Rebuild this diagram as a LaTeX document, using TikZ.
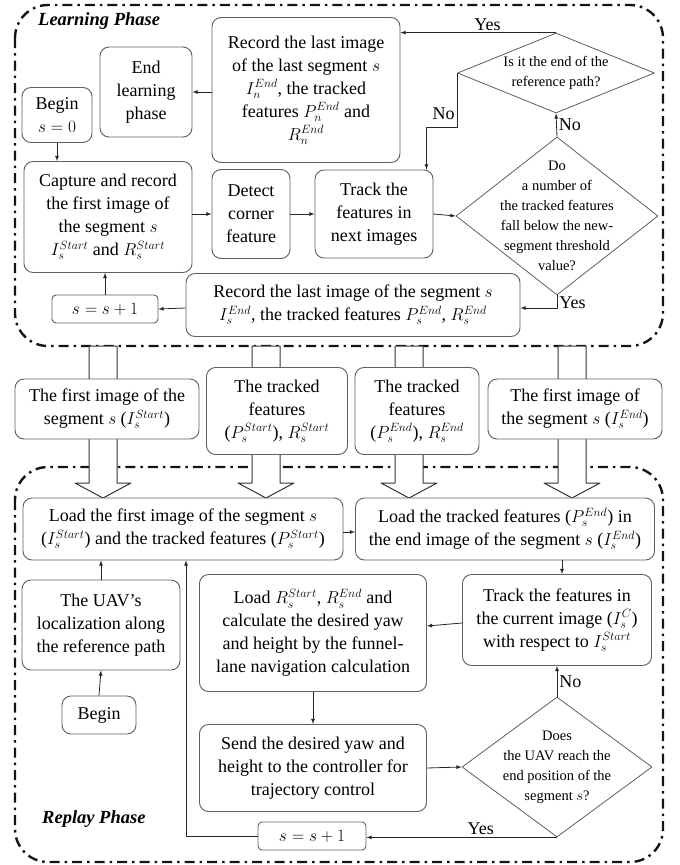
\documentclass[tikz,border=0pt]{standalone}
\usepackage{fontspec}
\setmainfont{Liberation Serif}
\usetikzlibrary{shapes.geometric,calc,positioning}

\definecolor{boxgray}{RGB}{95,95,95}
\definecolor{framegray}{RGB}{20,20,20}
\newcommand{\flowfont}{\fontsize{18}{23}\selectfont}
\newcommand{\decfont}{\fontsize{14.5}{20}\selectfont}
\newcommand{\phasefont}{\fontsize{18.5}{22}\selectfont\bfseries\itshape}

\begin{document}
\begin{tikzpicture}[x=1pt,y=-1pt,line join=round,
    box/.style={draw=boxgray,line width=0.9pt,rounded corners=9pt,fill=white,
        align=center,font=\flowfont,inner sep=2pt},
    decision/.style={diamond,draw=boxgray,line width=0.8pt,fill=white,inner sep=0pt},
    dtext/.style={align=center,font=\decfont,inner sep=0pt},
    flow/.style={-latex,line width=0.8pt,black!85},
    elabel/.style={font=\flowfont,inner sep=2pt,black},
    phaseframe/.style={framegray,line width=2.4pt,rounded corners=33pt,
        dash pattern=on 10pt off 5pt on 2.5pt off 5pt},
    hollow/.style={draw=black!80,fill=white,line width=1pt},
    phaselabel/.style={font=\phasefont,inner sep=0pt}]
    \useasboundingbox (0,0) rectangle (680,865);

    % Marcos de las dos fases
    \draw[phaseframe] (15,5) rectangle (663,346);
    \draw[phaseframe] (15,467) rectangle (663,862);
    \node[phaselabel,anchor=west] (lphase) at (38,21) {Learning Phase};
    \node[phaselabel,anchor=west] (rphase) at (42,819) {Replay Phase};

    % Flechas huecas entre fases
    \foreach \cx in {103,266,409,572} {
        \draw[hollow] (\cx-14,346) -- (\cx-14,483) -- (\cx-28,483) -- (\cx,498)
            -- (\cx+28,483) -- (\cx+14,483) -- (\cx+14,346) -- cycle;
    }

    % Fase de aprendizaje
    \node[box,minimum width=92pt,minimum height=90pt] (lend) at (146,92)
        {End\\learning\\phase};
    \node[box,minimum width=188pt,minimum height=145pt] (lrecn) at (306,90)
        {Record the last image\\of the last segment $s$\\$I_n^{End}$, the tracked\\
         features $P_n^{End}$ and\\$R_n^{End}$};
    \node[box,minimum width=70pt,minimum height=55pt] (lbegin) at (57,115)
        {Begin\\$s=0$};
    \node[box,minimum width=168pt,minimum height=111pt] (lcap) at (108,217)
        {Capture and record\\the first image of\\the segment $s$\\
         $I_s^{Start}$ and $R_s^{Start}$};
    \node[box,minimum width=78pt,minimum height=89pt] (ldet) at (251,214)
        {Detect\\corner\\feature};
    \node[box,minimum width=118pt,minimum height=88pt] (ltrk) at (374,214)
        {Track the\\features in\\next images};
    \node[decision,minimum width=202pt,minimum height=158pt,
        label={[dtext]center:{Do\\a number of\\the tracked features\\
        fall below the new-\\segment threshold\\value?}}] (ldec) at (557,216) {};
    \node[decision,minimum width=197pt,minimum height=80pt,
        label={[dtext]center:{Is it the end of the\\reference path?}}]
        (lqend) at (556,73) {};
    \node[box,minimum width=334pt,minimum height=63pt] (lrecs) at (353,305)
        {Record the last image of the segment $s$\\
         $I_s^{End}$, the tracked features $P_s^{End}$, $R_s^{End}$};
    \node[box,rounded corners=4pt,minimum width=106pt,minimum height=28pt]
        (lincr) at (105,309) {$s=s+1$};

    \draw[flow] (lbegin.south) -- (lbegin.south |- lcap.north);
    \draw[flow] (lcap.east |- ldet) -- (ldet.west);
    \draw[flow] (ldet.east) -- (ltrk.west);
    \draw[flow] (ltrk.east) -- (ldec.west);
    \draw[flow] (ldec.north) -- node[elabel,right] {No} (lqend.south);
    \draw[flow] (lqend.north) -- node[elabel,above,pos=0.44] {Yes}
        (lrecn.east |- lqend.north);
    \draw[flow] (lqend.west) -- ++(0,54) node[elabel,left,pos=0.75] {No}
        -| ($(ltrk.north east)+(-7,0)$);
    \draw[flow] (ldec.south) |- node[elabel,right,pos=0.3] {Yes}
        ($(lrecs.east)+(0,3)$);
    \draw[flow] ($(lrecs.west)+(0,3)$) -- (lincr.east);
    \draw[flow] (lincr.north) -- (lincr.north |- lcap.south);
    \draw[flow] (lrecn.west |- lend) -- (lend.east);

    % Datos que pasan a la fase de repetición
    \node[box,minimum width=184pt,minimum height=60pt] (mfirst) at (107,409)
        {The first image of the\\segment $s$ ($I_s^{Start}$)};
    \node[box,minimum width=141pt,minimum height=87pt] (mpstart) at (277,411)
        {The tracked\\features\\($P_s^{Start}$), $R_s^{Start}$};
    \node[box,minimum width=124pt,minimum height=87pt] (mpend) at (417,411)
        {The tracked\\features\\($P_s^{End}$), $R_s^{End}$};
    \node[box,minimum width=174pt,minimum height=60pt] (mlast) at (575,409)
        {The first image of\\the segment $s$ ($I_s^{End}$)};

    % Fase de repetición
    \node[box,minimum width=320pt,minimum height=62pt] (rload) at (183,529)
        {Load the first image of the segment $s$\\
         ($I_s^{Start}$) and the tracked features ($P_s^{Start}$)};
    \node[box,minimum width=299pt,minimum height=62pt] (rloadend) at (505,529)
        {Load the tracked features ($P_s^{End}$) in\\
         the end image of the segment $s$ ($I_s^{End}$)};
    \node[box,minimum width=189pt,minimum height=91pt] (rtrk) at (557,620)
        {Track the features in\\the current image ($I_s^C$)\\
         with respect to $I_s^{Start}$};
    \node[box,minimum width=227pt,minimum height=117pt] (rcalc) at (313,633)
        {Load $R_s^{Start}$, $R_s^{End}$ and\\calculate the desired yaw\\
         and height by the funnel-\\lane navigation calculation};
    \node[box,minimum width=227pt,minimum height=87pt] (rsend) at (313,768)
        {Send the desired yaw and\\height to the controller for\\trajectory control};
    \node[decision,minimum width=190pt,minimum height=140pt,
        label={[dtext]center:{Does\\the UAV reach the\\end position of the\\
        segment $s$?}}] (rdec) at (557,767) {};
    \node[box,rounded corners=4pt,minimum width=108pt,minimum height=28pt]
        (rincr) at (312,836) {$s=s+1$};
    \node[box,minimum width=158pt,minimum height=90pt] (rloc) at (101,625)
        {The UAV's\\localization along\\the reference path};
    \node[box,minimum width=74pt,minimum height=38pt] (rbegin) at (99,715)
        {Begin};

    \draw[flow] (rbegin.north) -- (rloc.south);
    \draw[flow] (rloc.north) -- (rloc.north |- rload.south);
    \draw[flow] ($(rload.east)+(0,3)$) -- ($(rloadend.west)+(0,3)$);
    \draw[flow] ($(rloadend.south)+(57,0)$) -- ($(rtrk.north)+(5,0)$);
    \draw[flow] ($(rtrk.west)+(0,3)$) -- ($(rcalc.east)+(0,-7)$);
    \draw[flow] (rcalc.south) -- (rsend.north);
    \draw[flow] (rsend.east) -- (rdec.west);
    \draw[flow] (rdec.north) -- node[elabel,right] {No} (rtrk.south);
    \draw[flow] (rdec.south) -- node[elabel,above,pos=0.4] {Yes}
        (rdec.south -| rincr.east);
    \draw[flow] (rincr.west) -| ($(rload.south)+(3,0)$);
\end{tikzpicture}
\end{document}
